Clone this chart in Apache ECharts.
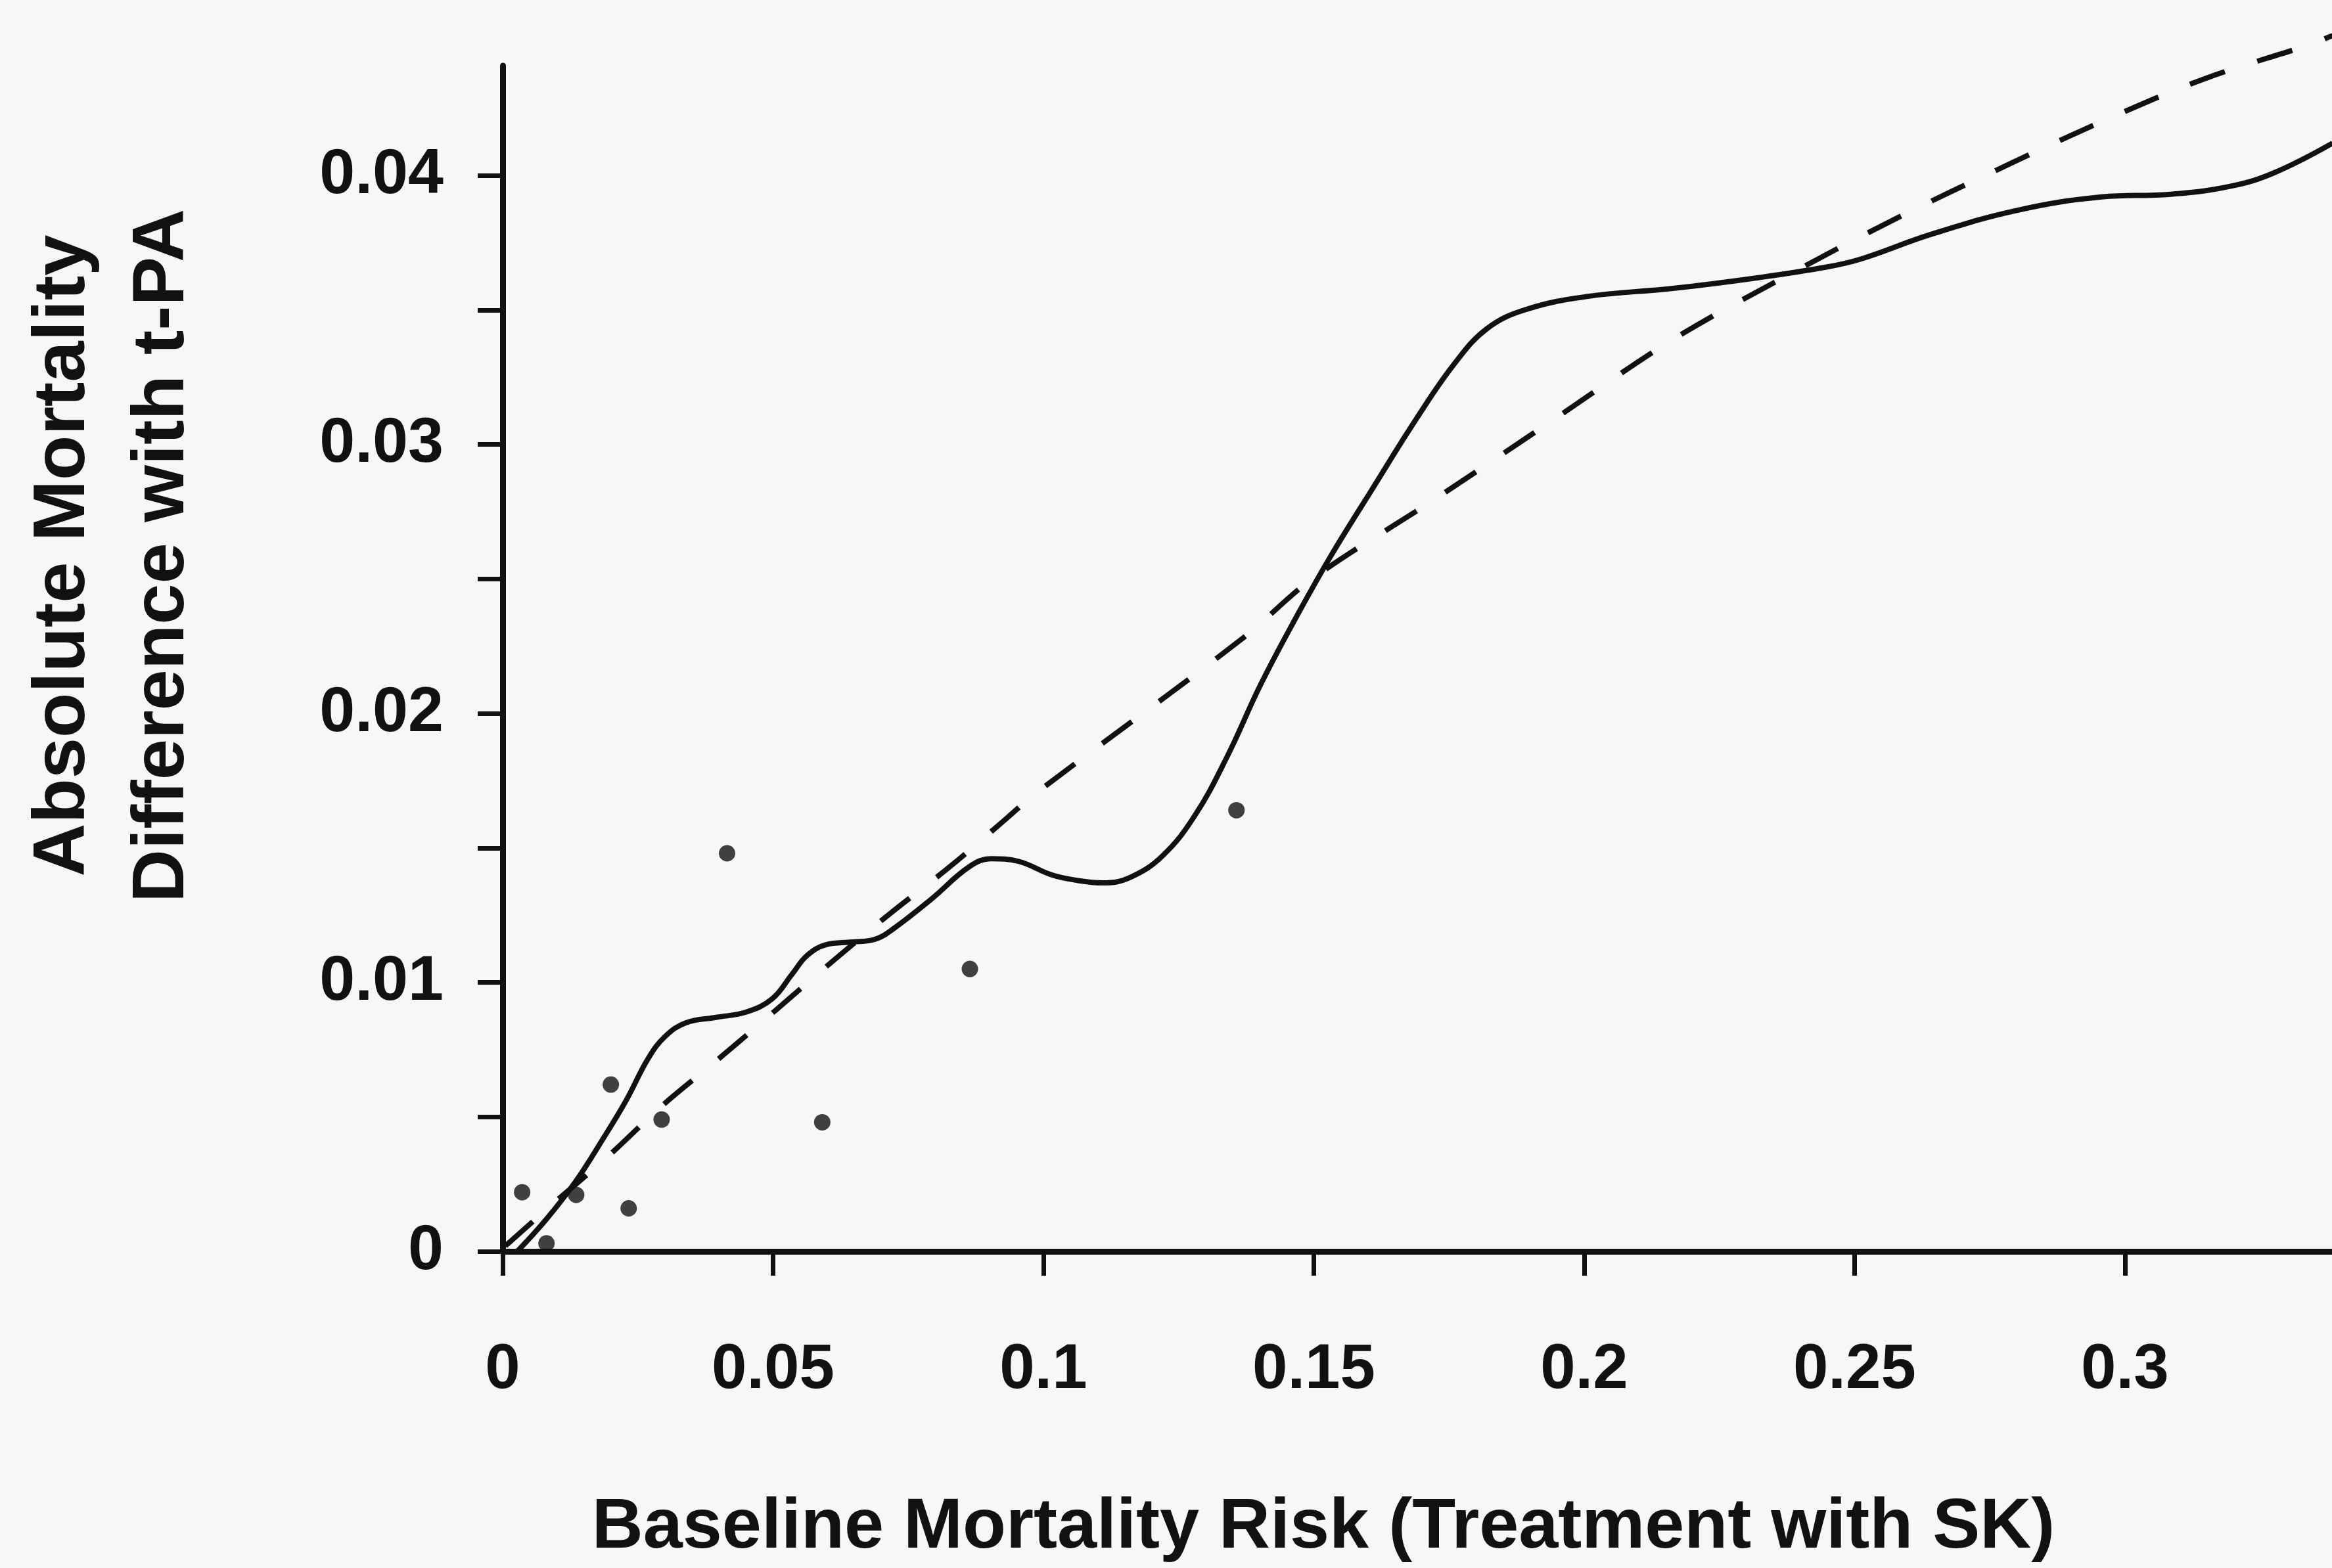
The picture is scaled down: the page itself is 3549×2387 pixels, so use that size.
<!DOCTYPE html>
<html>
<head>
<meta charset="utf-8">
<script src="https://cdn.jsdelivr.net/npm/echarts@6/dist/echarts.min.js"></script>
<style>
html,body{margin:0;padding:0;background:#f7f7f5;}
#c{width:3549px;height:2387px;}
</style>
</head>
<body>
<div id="c"></div>
<script>
// ---- data ----
var xTitle = 'Baseline Mortality Risk (Treatment with SK)';
var yTitleLine1 = 'Absolute Mortality';
var yTitleLine2 = 'Difference with t-PA';

var xTicks = [0, 0.05, 0.1, 0.15, 0.2, 0.25, 0.3];
var yTicks = [0, 0.005, 0.01, 0.015, 0.02, 0.025, 0.03, 0.035, 0.04];
var yTickLabels = [0, 0.01, 0.02, 0.03, 0.04];

// smoothed observed difference (solid curve)
var solidX = [0.0027,0.0081,0.0135,0.0186,0.0228,0.0270,0.0301,0.0339,0.0395,0.0451,0.0499,0.0535,0.0563,0.0598,0.0646,0.0688,0.0723,0.0793,0.0863,0.0904,0.0954,0.1015,0.1060,0.1110,0.1160,0.1220,0.1280,0.1340,0.1400,0.1460,0.1530,0.1610,0.1688,0.1760,0.1820,0.1890,0.2005,0.2164,0.2322,0.2450,0.2513,0.2640,0.2800,0.2957,0.3085,0.3196,0.3276,0.3384];
var solidY = [0.0000,0.0012,0.0026,0.0042,0.0056,0.0072,0.0080,0.0085,0.0087,0.0089,0.0094,0.0103,0.0110,0.0114,0.0115,0.0116,0.0120,0.0131,0.0143,0.0146,0.0145,0.0140,0.0138,0.0137,0.0139,0.0147,0.0162,0.0184,0.0210,0.0233,0.0258,0.0284,0.0309,0.0330,0.0343,0.0350,0.0355,0.0358,0.0362,0.0366,0.0369,0.0378,0.0387,0.0392,0.0393,0.0396,0.0401,0.0412];

// model-predicted difference (dashed curve)
var dashX = [0.0005,0.0089,0.0193,0.0294,0.0402,0.0507,0.0611,0.0719,0.0827,0.0932,0.0984,0.1369,0.1497,0.1719,0.1942,0.2164,0.2387,0.2577,0.2784,0.2957,0.3148,0.3332,0.3384];
var dashY = [0.0002,0.0017,0.0035,0.0054,0.0072,0.0090,0.0108,0.0126,0.0143,0.0161,0.0170,0.0228,0.0250,0.0279,0.0309,0.0339,0.0364,0.0384,0.0404,0.0420,0.0436,0.0448,0.0452];

// observed group points
var dotX = [0.0036,0.0081,0.0136,0.0200,0.0233,0.0294,0.0415,0.0591,0.0864,0.1357];
var dotY = [0.0022,0.0003,0.0021,0.0062,0.0016,0.0049,0.0148,0.0048,0.0105,0.0164];

function zip(a, b){ return a.map(function(v, i){ return [v, b[i]]; }); }

var INK = '#111111';
var FONT = '"Liberation Sans", Arial, sans-serif';

var chart = echarts.init(document.getElementById('c'), null, {renderer:'canvas'});
chart.setOption({
  backgroundColor: '#f7f7f5',
  animation: false,
  grid: {left: 765, top: 100, right: 0, bottom: 482, containLabel: false, outerBoundsMode: 'none'},
  xAxis: {
    type: 'value', min: 0, max: 0.3383,
    splitLine: {show: false},
    axisLine: {show: true, onZero: false, lineStyle: {color: INK, width: 9}},
    axisTick: {show: true, inside: false, length: 37, customValues: xTicks, lineStyle: {color: INK, width: 7}},
    axisLabel: {show: true, customValues: xTicks, margin: 134, color: INK, fontFamily: FONT, fontWeight: 'bold', fontSize: 96}
  },
  yAxis: {
    type: 'value', min: 0, max: 0.04408,
    splitLine: {show: false},
    axisLine: {show: true, onZero: false, lineStyle: {color: INK, width: 9}},
    axisTick: {show: true, inside: false, length: 38, customValues: yTicks, lineStyle: {color: INK, width: 7}},
    axisLabel: {show: true, customValues: yTickLabels, margin: 90, color: INK, fontFamily: FONT, fontWeight: 'bold', fontSize: 97}
  },
  graphic: [
    {type: 'text', x: 97, y: 846, rotation: Math.PI/2,
     style: {text: yTitleLine1, fill: INK, font: 'bold 112px ' + FONT, textAlign: 'center', textVerticalAlign: 'middle'}},
    {type: 'text', x: 248, y: 846, rotation: Math.PI/2,
     style: {text: yTitleLine2, fill: INK, font: 'bold 112px ' + FONT, textAlign: 'center', textVerticalAlign: 'middle'}},
    {type: 'text', x: 2014, y: 2326,
     style: {text: xTitle, fill: INK, font: 'bold 108px ' + FONT, textAlign: 'center', textVerticalAlign: 'middle'}}
  ],
  series: [
    {type: 'line', name: 'observed', data: zip(solidX, solidY), smooth: 0.4, showSymbol: false, clip: false,
     lineStyle: {color: INK, width: 8}},
    {type: 'line', name: 'predicted', data: zip(dashX, dashY), smooth: 0.35, showSymbol: false, clip: false,
     lineStyle: {color: INK, width: 8, type: [56, 52]}},
    {type: 'scatter', name: 'groups', data: zip(dotX, dotY), symbol: 'circle', symbolSize: 25, clip: false,
     itemStyle: {color: INK}}
  ]
});
</script>
</body>
</html>
